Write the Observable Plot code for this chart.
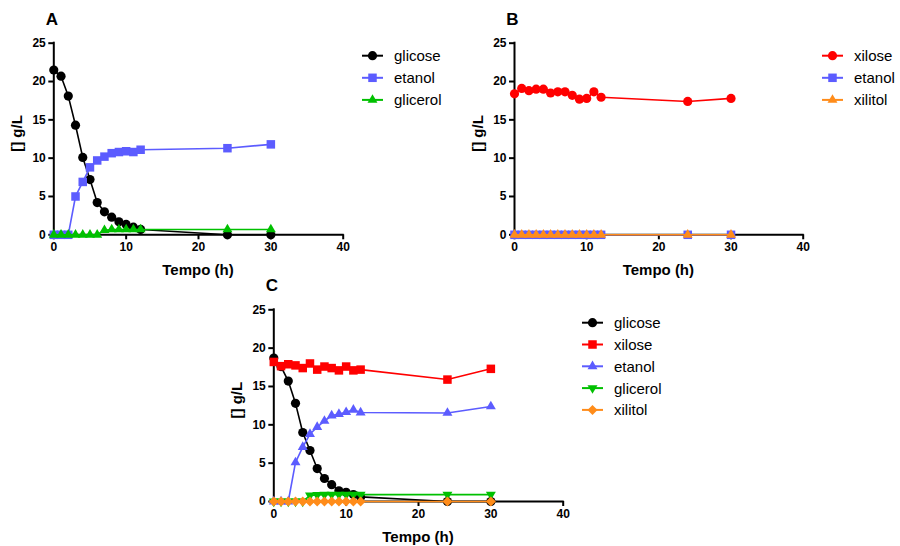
<!DOCTYPE html>
<html><head><meta charset="utf-8">
<script src="https://cdn.jsdelivr.net/npm/d3@7"></script>
<script src="https://cdn.jsdelivr.net/npm/@observablehq/plot@0.6"></script>
<style>
body{margin:0;background:#fff;}
#wrap{position:relative;width:900px;height:546px;font-family:"Liberation Sans",Arial,sans-serif;overflow:hidden;}
#wrap svg{position:absolute;}
</style></head><body><div id="wrap"></div>
<script>
// ---- data ----
const tempo = [0,1,2,3,4,5,6,7,8,9,10,11,12,24,30];
const xTicks = [0,10,20,30,40];
const yTicks = [0,5,10,15,20,25];
const xLabel = "Tempo (h)";
const yLabel = "[] g/L";
const panelNames = ["A","B","C"];

const aGlicose  = [21.5,20.7,18.1,14.3,10.1,7.2,4.2,3.0,2.3,1.7,1.35,1.0,0.7,0,0];
const aEtanol   = [0,0,0,5.0,6.9,8.8,9.7,10.2,10.65,10.8,10.9,10.8,11.1,11.3,11.8];
const aGlicerol = [0,0,0,0,0,0,0,0.6,0.7,0.7,0.7,0.7,0.7,0.7,0.7];

const bXilose   = [18.4,19.1,18.8,19.0,19.0,18.5,18.65,18.65,18.2,17.7,17.8,18.65,17.95,17.4,17.8];
const bEtanol   = [0,0,0,0,0,0,0,0,0,0,0,0,0,0,0];
const bXilitol  = [0,0,0,0,0,0,0,0,0,0,0,0,0,0,0];

const cGlicose  = [18.7,17.6,15.7,12.8,9.0,6.65,4.3,3.0,2.2,1.4,1.2,0.9,0.6,0,0];
const cXilose   = [18.2,17.65,17.9,17.75,17.4,18.0,17.2,17.6,17.4,17.1,17.6,17.1,17.2,15.9,17.3];
const cEtanol   = [0,0,0,5.1,7.1,8.8,9.7,10.5,11.2,11.4,11.65,11.95,11.6,11.55,12.4];
const cGlicerol = [0,0,0,0,0,0.8,0.85,0.9,0.9,0.9,0.9,0.9,0.9,0.9,0.9];
const cXilitol  = [0,0,0,0,0,0,0,0,0,0,0,0,0,0,0];

// ---- styles ----
const colors = {glicose:"#000000", xilose:"#ff0000", etanol:"#5c5cff", glicerol:"#00c000", xilitol:"#ff8c1a"};
const sym = {
  circle:{symbol:"circle", r:4.6, rotate:0},
  square:{symbol:"square", r:4.8, rotate:0},
  triUp:{symbol:"triangle", r:3.7, rotate:0},
  triDown:{symbol:"triangle", r:3.7, rotate:180},
  diamond:{symbol:"square", r:4.0, rotate:45}
};

const panels = [
  {letter:panelNames[0], left:0, top:0, width:350, height:290, ml:53.3, mr:7.3, mt:42.7, mb:55.7,
   series:[["glicose",aGlicose,"circle"],["etanol",aEtanol,"square"],["glicerol",aGlicerol,"triUp"]],
   legend:{x:362, y:55.7, dy:22.1}},
  {letter:panelNames[1], left:460, top:0, width:350, height:290, ml:54, mr:7.3, mt:42.7, mb:55.7,
   series:[["xilose",bXilose,"circle"],["etanol",bEtanol,"square"],["xilitol",bXilitol,"triUp"]],
   legend:{x:822, y:55.7, dy:22.1}},
  {letter:panelNames[2], left:220, top:270, width:350, height:276, ml:53.3, mr:7.3, mt:39.3, mb:45,
   series:[["glicose",cGlicose,"circle"],["xilose",cXilose,"square"],["etanol",cEtanol,"triUp"],["glicerol",cGlicerol,"triDown"],["xilitol",cXilitol,"diamond"]],
   legend:{x:582, y:322.7, dy:21.8}}
];

const wrap = document.getElementById("wrap");

panels.forEach(p => {
  const marks = [
    Plot.axisX({ticks:xTicks, tickSize:5, tickPadding:3, strokeWidth:2, fontSize:12, fontWeight:"bold", label:null}),
    Plot.axisY({ticks:yTicks, tickSize:5, tickPadding:3, strokeWidth:2, fontSize:12, fontWeight:"bold", label:null}),
    Plot.ruleX([0], {strokeWidth:2, strokeLinecap:"square"}),
    Plot.ruleY([0], {strokeWidth:2, strokeLinecap:"square"})
  ];
  p.series.forEach(([name, values, s]) => {
    const d = tempo.map((t,i) => ({t, v:values[i]}));
    const st = sym[s];
    marks.push(Plot.line(d, {x:"t", y:"v", stroke:colors[name], strokeWidth:1.6}));
    marks.push(Plot.dot(d, {x:"t", y:"v", fill:colors[name], stroke:"none", symbol:st.symbol, r:st.r, rotate:st.rotate}));
  });
  const chart = Plot.plot({
    width:p.width, height:p.height,
    marginLeft:p.ml, marginRight:p.mr, marginTop:p.mt, marginBottom:p.mb,
    x:{domain:[0,40]}, y:{domain:[0,25]},
    style:{fontFamily:"Liberation Sans, Arial, sans-serif", background:"transparent", color:"#000"},
    marks
  });
  chart.style.left = p.left + "px";
  chart.style.top = p.top + "px";
  wrap.appendChild(chart);
});

// ---- overlay: titles, axis labels, legends ----
const ov = d3.select(wrap).append("svg")
  .attr("width",900).attr("height",546)
  .style("left","0px").style("top","0px")
  .style("font-family","Liberation Sans, Arial, sans-serif");

panels.forEach(p => {
  const x0 = p.left + p.ml, x1 = p.left + p.width - p.mr;
  const y0 = p.top + p.mt, y1 = p.top + p.height - p.mb;
  ov.append("text").attr("x", x0 - 1.5).attr("y", y0 - 18)
    .attr("text-anchor","middle").attr("font-size",17).attr("font-weight","bold").text(p.letter);
  ov.append("text").attr("x", (x0+x1)/2).attr("y", y1 + 40.8)
    .attr("text-anchor","middle").attr("font-size",15).attr("font-weight","bold").text(xLabel);
  ov.append("text").attr("transform",`translate(${x0-37},${(y0+y1)/2-5}) rotate(-90)`)
    .attr("text-anchor","middle").attr("dominant-baseline","central")
    .attr("font-size",15).attr("font-weight","bold").text(yLabel);

  const typeOf = {circle:d3.symbolCircle, square:d3.symbolSquare, triangle:d3.symbolTriangle};
  p.series.forEach(([name, values, s], i) => {
    const st = sym[s];
    const y = p.legend.y + i*p.legend.dy;
    const g = ov.append("g");
    g.append("line").attr("x1",p.legend.x).attr("x2",p.legend.x+21).attr("y1",y).attr("y2",y)
      .attr("stroke",colors[name]).attr("stroke-width",2);
    g.append("path")
      .attr("d", d3.symbol().type(typeOf[st.symbol]).size(st.r*st.r*Math.PI)())
      .attr("transform",`translate(${p.legend.x+10.5},${y}) rotate(${st.rotate})`)
      .attr("fill",colors[name]);
    g.append("text").attr("x",p.legend.x+32).attr("y",y).attr("dominant-baseline","central")
      .attr("font-size",15).text(name);
  });
});
</script></body></html>
